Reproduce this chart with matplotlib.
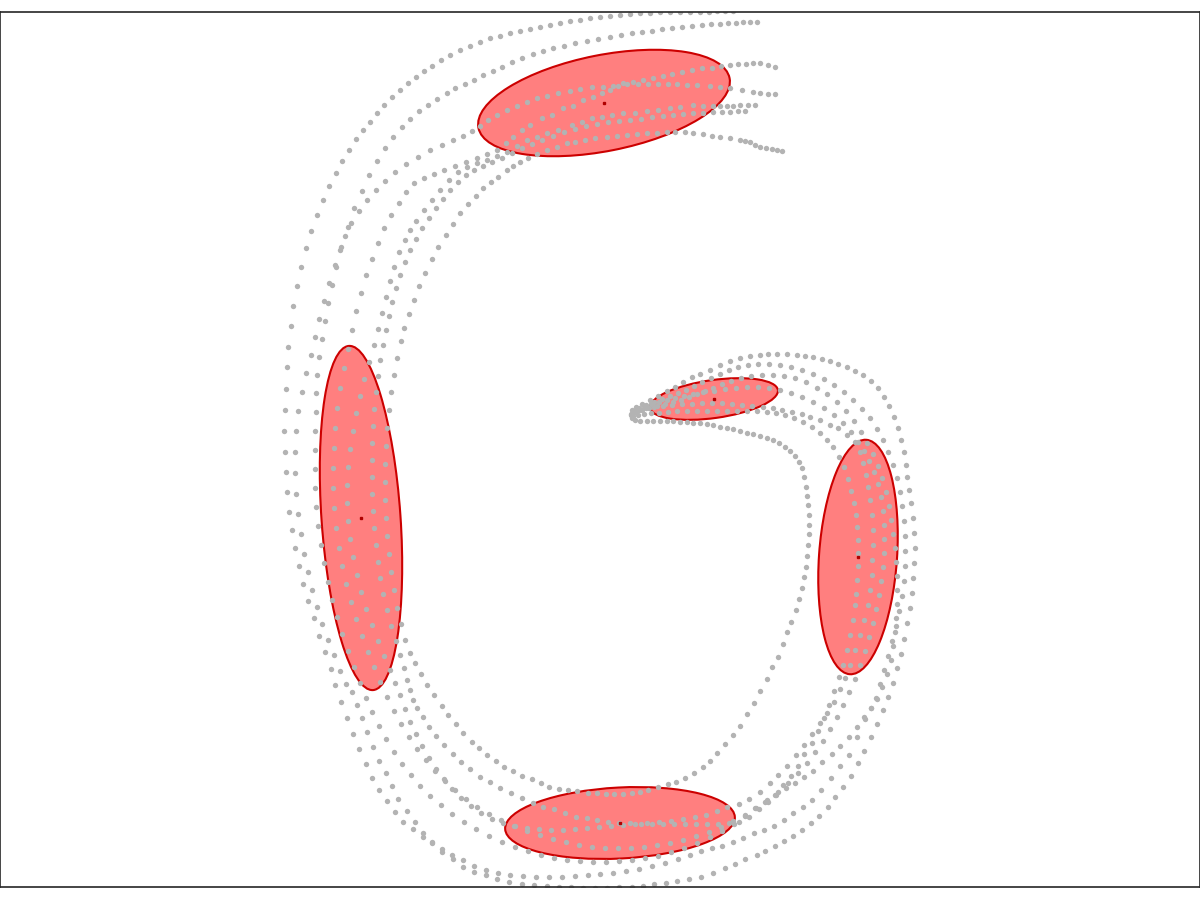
import matplotlib
matplotlib.use("Agg")
import matplotlib.pyplot as plt
from matplotlib.patches import Ellipse

# pen strokes of the letter (x, y in pixel-like units, y down)
stroke_a = [(733,11),(725,11),(717,11),(709,12),(700,12),(690,12),(680,12),(670,12),(660,12),(650,13),(640,13),(630,14),
            (620,15),(610,16),(600,17),(590,18),(580,20),(570,21),(560,23),(550,25),(540,27),(530,29),(520,31),(510,33),
            (500,36),(490,38),(480,42),(470,46),(460,50),(450,55),(441,60),(432,66),(424,71),(416,77),(408,83),(400,90),
            (392,97),(384,105),(377,113),(370,122),(363,130),(356,139),(349,150),(342,161),(336,173),(329,186),(323,200),
            (317,215),(311,231),(306,248),(301,267),(297,286),(293,306),(291,326),(288,347),(287,367),(286,389),(285,410),
            (284,431),(285,452),(286,472),(287,492),(289,512),(292,530),(295,548),(299,566),(303,584),(308,601),(314,618),
            (319,636),(325,652),(331,669),(335,685),(341,702),(347,718),(353,734),(359,749),(366,764),(372,778),(379,790),
            (387,801),(395,812),(403,822),(413,829),(423,837),(432,843),(442,852),(453,859),(463,867),(474,872),(486,875),
            (497,879),(509,882),(522,884),(534,885),(547,886),(559,887),(571,887),(583,888),(595,888),(607,888),(619,887),
            (632,887),(643,886),(654,884),(666,883),(677,881),(689,879),(701,877),(713,873),(725,868),(735,864),(745,859),
            (757,855),(765,851),(775,846),(784,841),(793,836),(802,830),(811,823),(819,816),(828,807),(835,797),(843,787),
            (851,776),(858,763),(864,751),(871,737),(877,724),(883,710),(888,697),(893,683),(897,668),(901,654),(904,639),
            (907,623),(910,608),(912,593),(913,578),(914,563),(915,548),(914,533),(913,518),(911,503),(909,490),(907,477),
            (906,465),(904,452),(901,440),(898,428),(894,417),(889,406),(884,397),(878,388),(871,381),(863,375),(855,371),
            (847,367),(838,364),(830,361),(822,359),(813,357),(805,356),(797,355),(787,354),(777,354),(768,354),(760,355),
            (750,356),(740,358),(730,361),(720,365),(710,370),(700,374),(692,377),(683,382),(675,387),(667,391),(658,396),
            (650,400),(642,404),(636,407),(632,410)]

stroke_b = [(757,22),(750,22),(743,22),(736,23),(728,23),(720,24),(711,24),(702,25),(692,26),(682,27),(672,28),(662,29),
            (652,31),(642,32),(632,33),(621,35),(610,37),(598,39),(587,41),(575,43),(564,46),(553,48),(543,51),(533,54),
            (522,58),(512,62),(502,67),(493,71),(483,75),(474,80),(465,84),(455,88),(447,93),(437,99),(428,105),(419,111),
            (410,119),(402,127),(393,137),(385,148),(377,161),(369,175),(362,191),(354,208),(348,227),(341,247),(335,265),
            (329,283),(324,301),(319,319),(315,337),(311,355),(306,373),(302,392),(298,411),(296,431),(295,452),(295,473),
            (296,494),(298,514),(301,534),(304,554),(308,572),(312,590),(317,607),(322,624),(328,640),(334,655),(340,671),
            (346,684),(352,692),(357,705),(362,718),(367,732),(373,747),(379,761),(386,773),(392,786),(398,799),(407,811),
            (415,822),(423,833),(432,842),(442,849),(452,855),(463,860),(474,866),(486,870),(498,873),(510,875),(523,876),
            (536,877),(549,877),(562,877),(575,876),(588,875),(600,874),(613,873),(626,871),(639,869),(652,866),(665,863),
            (678,859),(690,855),(701,851),(712,848),(722,846),(733,842),(743,838),(754,833),(764,830),(774,826),(784,820),
            (793,813),(803,807),(812,800),(821,790),(831,778),(840,766),(849,755),(857,737),(865,719),(871,708),(876,698),
            (880,684),(884,670),(888,656),(892,641),(896,626),(899,611),(902,596),(904,581),(905,566),(905,551),(905,536),
            (904,521),(902,506),(900,492),(897,478),(893,465),(888,452),(883,440),(877,429),(870,418),(862,409),(853,400),
            (844,392),(834,385),(824,379),(813,374),(802,370),(791,367),(780,365),(769,364),(758,364),(748,365),(738,367),
            (729,370),(720,374),(711,378),(702,382),(694,386),(686,390),(678,393),(670,396),(662,399),(654,402),(646,405),
            (639,408),(634,411),(631,414)]

stroke_c = [(775,67),(768,65),(760,63),(753,63),(746,64),(738,64),(730,65),(721,66),(712,68),(702,68),(692,70),(682,72),
            (672,74),(663,76),(653,78),(643,80),(633,82),(623,83),(613,86),(603,87),(592,87),(580,89),(570,91),(558,93),
            (547,96),(537,98),(527,102),(517,106),(507,110),(497,115),(488,120),(480,126),(472,131),(463,136),(453,140),
            (442,145),(430,150),(418,157),(406,164),(395,172),(385,181),(376,190),(367,200),(359,211),(351,223),(345,236),
            (340,250),(336,267),(332,285),(328,303),(325,321),(322,339),(319,357),(317,375),(316,393),(316,412),(315,431),
            (315,450),(315,469),(315,488),(316,507),(318,526),(321,545),(324,563),(328,582),(332,600),(337,617),(342,634),
            (348,651),(354,667),(360,683),(366,698),(372,712),(379,726),(386,739),(394,752),(402,764),(411,775),(420,786),
            (430,796),(441,805),(452,814),(464,822),(476,829),(489,836),(502,842),(515,847),(528,851),(541,855),(554,858),
            (567,860),(580,861),(593,862),(606,862),(619,861),(632,860),(645,858),(658,856),(671,852),(684,848),(697,843),
            (710,837),(722,831),(734,824),(745,816),(755,808),(765,802),(775,795),(786,788),(795,783),(804,777),(813,771),
            (822,762),(832,754),(840,746),(849,737),(857,727),(864,717),(871,708),(877,699),(882,687),(887,674),(891,660),
            (893,646),(895,632),(896,618),(897,604),(897,590),(897,576),(896,562),(895,548),(893,534),(891,520),(889,506),
            (886,492),(882,478),(878,466),(873,454),(867,443),(861,432),(854,421),(846,411),(837,402),(827,394),(817,388),
            (806,382),(795,378),(784,376),(773,375),(762,375),(751,376),(741,378),(731,381),(722,384),(713,388),(705,391),
            (697,394),(689,397),(681,400),(673,402),(665,404),(657,406),(649,408),(642,410),(636,412),(632,415)]

stroke_d = [(775,94),(768,94),(760,93),(753,92),(742,90),(730,88),(720,87),(710,86),(697,85),(687,85),(677,84),(668,84),
            (658,84),(648,84),(638,84),(627,84),(618,86),(610,90),(602,93),(593,97),(583,100),(573,106),(563,108),(552,115),
            (542,118),(530,125),(522,130),(513,137),(506,143),(497,150),(487,154),(477,158),(466,162),(455,166),(444,170),
            (434,174),(424,178),(414,183),(406,192),(399,203),(391,215),(384,228),(378,243),(372,259),(366,275),(361,293),
            (356,311),(352,330),(348,349),(344,368),(340,388),(337,408),(335,428),(334,448),(333,468),(333,488),(334,508),
            (336,528),(339,548),(342,566),(346,584),(351,602),(356,619),(362,636),(368,652),(374,667),(380,682),(387,697),
            (394,711),(401,724),(409,737),(417,749),(426,760),(435,771),(445,781),(455,790),(466,799),(477,807),(489,814),
            (501,820),(514,826),(527,831),(540,835),(553,839),(566,842),(579,845),(592,847),(605,848),(618,848),(631,848),
            (644,847),(657,845),(670,843),(683,840),(696,836),(709,832),(721,827),(733,821),(745,815),(756,808),(767,800),
            (778,792),(788,783),(798,773),(807,763),(815,752),(823,741),(830,729),(837,717),(843,705),(849,692),(855,679),
            (860,665),(865,651),(869,637),(873,623),(876,609),(879,595),(881,581),(883,567),(884,553),(884,539),(884,525),
            (883,511),(881,497),(878,484),(874,472),(869,461),(864,451),(858,442),(851,432),(843,423),(834,415),(824,408),
            (813,402),(802,397),(791,393),(780,390),(769,388),(758,387),(747,387),(736,388),(725,389),(714,391),(703,392),
            (693,394),(684,396),(675,398),(667,400),(659,402),(651,404),(644,406),(638,409),(633,412)]

stroke_e = [(755,105),(748,105),(740,105),(733,106),(727,106),(720,106),(713,106),(703,106),(693,105),(680,107),(670,108),
            (658,110),(647,111),(635,113),(623,113),(612,115),(602,117),(592,118),(582,122),(572,125),(558,130),(547,133),
            (537,137),(527,140),(517,146),(507,152),(497,156),(487,160),(477,163),(467,167),(458,172),(449,180),(440,190),
            (432,200),(424,210),(416,221),(410,230),(405,240),(399,252),(394,267),(390,281),(386,297),(382,313),(378,329),
            (374,345),(369,362),(364,379),(360,396),(356,413),(353,431),(350,449),(348,467),(347,485),(347,503),(348,521),
            (350,539),(353,557),(357,575),(361,592),(366,609),(372,625),(378,641),(384,656),(390,670),(395,683),(400,695),
            (405,709),(410,722),(416,734),(422,746),(429,758),(436,769),(444,779),(452,789),(461,798),(471,806),(481,813),
            (492,819),(503,823),(515,826),(527,828),(539,829),(551,830),(563,830),(575,829),(587,828),(599,827),(611,826),
            (623,825),(635,824),(647,823),(659,822),(671,821),(683,819),(695,817),(706,815),(717,811),(727,807),(739,804),
            (749,799),(760,792),(770,783),(778,775),(787,766),(796,755),(804,745),(812,734),(820,723),(827,713),(834,702),
            (840,689),(845,678),(850,665),(855,650),(860,635),(864,620),(868,605),(870,590),(872,575),(872,560),(873,545),
            (873,530),(872,515),(870,500),(868,487),(866,475),(863,463),(860,452),(855,442),(847,435),(838,428),(830,425),
            (820,420),(810,417),(802,414),(792,412),(782,410),(773,408),(763,407),(752,406),(742,405),(732,404),(722,403),
            (712,403),(702,403),(692,404),(682,404),(672,405),(663,406),(654,407),(646,408),(639,410),(634,412),(631,415)]

stroke_f = [(745,111),(738,111),(730,112),(722,112),(713,112),(703,113),(693,113),(683,114),(673,115),(663,116),(652,117),
            (641,119),(630,120),(619,121),(608,122),(597,124),(586,126),(575,129),(564,132),(553,136),(542,140),(532,144),
            (522,148),(512,153),(502,158),(492,162),(483,166),(474,170),(466,175),(458,182),(450,190),(443,199),(436,208),
            (429,218),(422,228),(416,239),(410,250),(405,262),(400,275),(396,288),(392,302),(389,316),(386,330),(383,345),
            (380,360),(378,376),(376,392),(374,409),(373,426),(372,443),(372,460),(372,477),(372,494),(373,511),(374,528),
            (376,545),(378,562),(380,578),(383,594),(387,610),(391,626),(396,641),(400,655),(404,668),(407,680),(410,690),
            (413,700),(417,708),(423,717),(429,727),(436,736),(444,745),(453,754),(461,762),(470,769),(480,777),(490,782),
            (500,788),(511,793),(522,798),(533,803),(543,807),(554,809),(565,813),(576,817),(587,818),(597,820),(608,822),
            (619,823),(630,823),(641,824),(652,824),(663,824),(674,824),(685,824),(696,824),(707,824),(718,824),(729,823),
            (739,822),(749,817),(759,809),(768,802),(776,795),(783,785),(791,776),(798,766),(804,754),(812,743),(818,731),
            (824,718),(829,705),(834,691),(839,677),(843,665),(847,650),(850,635),(853,620),(855,605),(856,594),(857,580),
            (858,566),(858,553),(858,540),(857,527),(856,515),(854,503),(851,491),(848,479),(844,467),(839,457),(833,447),
            (827,440),(820,433),(812,427),(803,422),(794,418),(785,415),(776,413),(767,412),(757,411),(747,411),(737,411),
            (727,411),(717,411),(707,411),(697,411),(687,411),(677,411),(668,412),(659,413),(651,413),(644,414),(638,415),
            (633,416)]

stroke_g = [(782,151),(777,150),(772,149),(766,148),(760,147),(755,145),(750,142),(745,141),(740,140),(730,138),(720,137),
            (712,136),(703,134),(693,133),(685,132),(675,132),(667,132),(657,133),(647,133),(637,134),(627,135),(617,136),
            (607,137),(595,138),(585,140),(575,142),(567,143),(557,147),(547,150),(537,154),(528,158),(520,162),(513,166),
            (507,170),(498,177),(491,182),(483,188),(476,196),(468,204),(460,213),(453,224),(446,235),(438,247),(432,259),
            (425,273),(419,286),(414,300),(409,314),(404,328),(401,341),(397,358),(394,375),(391,392),(389,410),(387,428),
            (386,446),(385,464),(385,482),(385,500),(386,518),(387,536),(389,554),(391,572),(394,590),(397,608),(401,624),
            (405,640),(410,653),(415,663),(421,674),(427,685),(434,695),(442,706),(448,715),(456,724),(463,733),(472,742),
            (479,748),(487,755),(496,761),(504,767),(513,771),(522,776),(532,779),(541,783),(549,787),(559,789),(568,790),
            (577,791),(588,793),(597,793),(606,794),(614,794),(623,794),(632,793),(640,792),(648,790),(658,787),(668,784),
            (676,782),(685,778),(694,773),(703,767),(710,761),(717,753),(725,744),(733,735),(740,726),(747,714),(754,703),
            (760,691),(767,679),(772,667),(778,657),(783,644),(787,632),(791,622),(796,610),(799,599),(802,588),(804,577),
            (806,567),(807,556),(808,545),(809,534),(809,525),(809,515),(808,505),(807,496),(806,487),(804,477),(802,468),
            (799,462),(795,456),(790,451),(785,447),(779,443),(773,440),(767,438),(760,436),(753,434),(747,433),(740,431),
            (733,429),(727,428),(720,427),(713,425),(707,424),(700,423),(693,423),(687,422),(680,422),(673,421),(667,421),
            (660,421),(653,421),(647,421),(640,421),(635,420),(632,418)]

strokes = [stroke_a, stroke_b, stroke_c, stroke_d, stroke_e, stroke_f, stroke_g]

# fitted components: centre, full width, full height, angle (deg)
comp_x = [604, 361, 714, 858, 620]
comp_y = [103, 518, 399, 557, 823]
comp_w = [256, 345, 129, 235, 230]
comp_h = [96, 79, 38, 78, 71]
comp_angle = [-11.2, 86.0, -8.0, 94.0, -3.0]


def draw_components(ax):
    for x, y, w, h, a in zip(comp_x, comp_y, comp_w, comp_h, comp_angle):
        e = Ellipse((x, y), w, h, angle=a, facecolor=(1.0, 0.0, 0.0, 0.5),
                    edgecolor="#cc0000", linewidth=1.5, zorder=1)
        ax.add_patch(e)
    ax.plot(comp_x, comp_y, "s", color="#b00000", markersize=1.6, zorder=3)


def main():
    fig = plt.figure(figsize=(12, 9), dpi=100)
    ax = fig.add_axes([0.0, 13 / 900, 1.0, 875 / 900])

    draw_components(ax)
    for s in strokes:
        xs = [p[0] for p in s]
        ys = [p[1] for p in s]
        ax.scatter(xs, ys, s=15, color="#b3b3b3", linewidths=0, zorder=2)

    ax.set_xlim(0, 1200)
    ax.set_ylim(887, 12)
    ax.set_xticks([])
    ax.set_yticks([])
    for sp in ax.spines.values():
        sp.set_color("#262626")
        sp.set_linewidth(1.2)

    fig.savefig("out.png", dpi=100)


if __name__ == "__main__":
    main()
